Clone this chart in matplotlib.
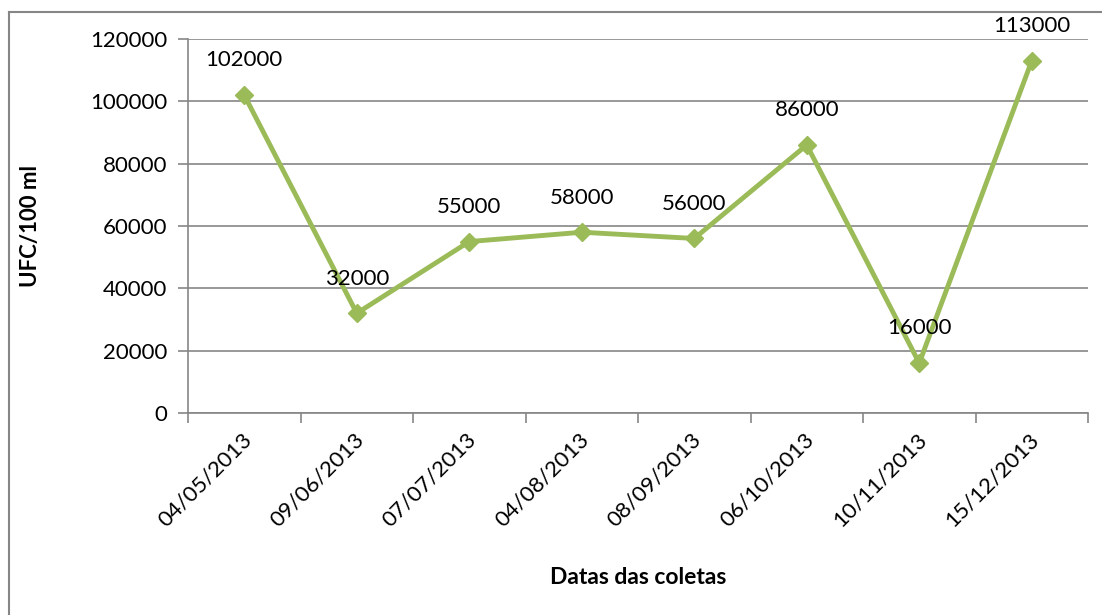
import matplotlib
matplotlib.use("Agg")
import matplotlib.pyplot as plt
from matplotlib.lines import Line2D
import matplotlib.transforms as mtransforms

datas = ["04/05/2013", "09/06/2013", "07/07/2013", "04/08/2013",
         "08/09/2013", "06/10/2013", "10/11/2013", "15/12/2013"]
ufc = [102000, 32000, 55000, 58000, 56000, 86000, 16000, 113000]
yticks = [0, 20000, 40000, 60000, 80000, 100000, 120000]

plt.rcParams['font.family'] = ['Lato', 'DejaVu Sans']

W, H = 1102, 615
fig = plt.figure(figsize=(W / 100, H / 100), dpi=100)
ax = fig.add_axes([188 / W, 1 - 413 / H, 900 / W, 374 / H])

x = range(len(datas))
ax.plot(x, ufc, color='#9BBB59', lw=3.5, marker='D', markersize=9.5, zorder=3)
for xi, v in zip(x, ufc):
    ax.annotate(str(v), (xi, v), xytext=(0, 25), textcoords='offset points',
                ha='center', va='center', fontsize=16)

ax.set_xlim(-0.5, len(datas) - 0.5)
ax.set_ylim(0, 120000)
ax.set_yticks(yticks)
ax.set_yticklabels([str(t) for t in yticks], fontsize=16)
ax.yaxis.grid(True, color='#868686', lw=1.2)
ax.set_axisbelow(True)

ax.set_xticks([i - 0.5 for i in range(len(datas) + 1)], minor=False)
ax.set_xticklabels([])
ax.set_xticks(list(x), minor=True)
ax.set_xticklabels(datas, minor=True, rotation=45, ha='right', va='top',
                   rotation_mode='anchor', fontsize=16)
ax.tick_params(axis='x', which='minor', length=0, pad=12)
offset = mtransforms.ScaledTranslation(-3 / 100, 0, fig.dpi_scale_trans)
for lbl in ax.get_xticklabels(minor=True):
    lbl.set_transform(lbl.get_transform() + offset)
ax.tick_params(axis='both', which='major', length=7, color='#868686', width=1.2)
ax.tick_params(axis='y', pad=8)

for s in ['top', 'right']:
    ax.spines[s].set_visible(False)
for s in ['left', 'bottom']:
    ax.spines[s].set_color('#868686')
    ax.spines[s].set_linewidth(1.2)

fig.text(30 / W, 1 - 226 / H, "UFC/100 ml", rotation=90, ha='center',
         va='center', fontsize=16, fontweight='bold')
fig.text(638 / W, 1 - 578 / H, "Datas das coletas", ha='center',
         va='center', fontsize=16.5, fontweight='bold')

fig.add_artist(Line2D([8.5 / W, 8.5 / W], [0, 1 - 12 / H], color='#868686', lw=1.5))
fig.add_artist(Line2D([8.5 / W, 1], [1 - 12 / H, 1 - 12 / H], color='#868686', lw=1.5))

fig.savefig("out.png", dpi=100)
